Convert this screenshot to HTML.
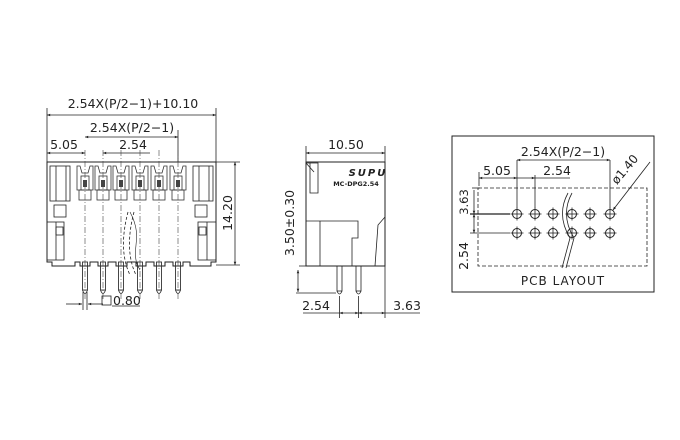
<!DOCTYPE html>
<html><head><meta charset="utf-8"><style>
html,body{margin:0;padding:0;background:#fff;}
svg{display:block;}
text{font-family:"DejaVu Sans","Liberation Sans",sans-serif;fill:#222;}
</style></head><body>
<svg width="680" height="440" viewBox="0 0 680 440" xmlns="http://www.w3.org/2000/svg">
<defs>
<marker id="a" viewBox="0 0 10 10" refX="10" refY="5" markerWidth="6" markerHeight="4" orient="auto-start-reverse"><path d="M0,1 L10,5 L0,9 z" fill="#222"/></marker>
<g id="slot">
 <path d="M-8,166 L-8,190 L8,190 L8,166 L5,166 L3,173 L-3,173 L-5,166 Z" fill="none" stroke="#333" stroke-width="0.8"/>
 <rect x="-4" y="176" width="8" height="14" fill="none" stroke="#333" stroke-width="0.8"/>
 <rect x="-2" y="180" width="4" height="7" fill="#444"/>
 <rect x="-6" y="190" width="12" height="10" fill="none" stroke="#333" stroke-width="0.8"/>
 <rect x="-2.5" y="262" width="5" height="28" fill="none" stroke="#333" stroke-width="0.9"/>
 <path d="M-2.5,290 Q0,297 2.5,290" fill="none" stroke="#333" stroke-width="0.9"/>
 <line x1="0" y1="150" x2="0" y2="300" stroke="#444" stroke-width="0.6" stroke-dasharray="6,2,1,2"/>
</g>
<g id="hole"><circle r="4.5" fill="none" stroke="#222" stroke-width="1"/><line x1="-6.5" y1="0" x2="6.5" y2="0" stroke="#222" stroke-width="0.8"/><line x1="0" y1="-6.5" x2="0" y2="6.5" stroke="#222" stroke-width="0.8"/></g>
</defs>
<g stroke="#222" stroke-width="0.8" fill="none">
<!-- LEFT VIEW -->
<line x1="47" y1="108" x2="47" y2="162"/>
<line x1="216" y1="108" x2="216" y2="162"/>
<line x1="47" y1="115" x2="216" y2="115" marker-start="url(#a)" marker-end="url(#a)"/>
<line x1="85" y1="137" x2="178" y2="137" marker-start="url(#a)" marker-end="url(#a)"/>
<line x1="178" y1="130" x2="178" y2="162"/>
<line x1="47" y1="153" x2="85" y2="153" marker-start="url(#a)" marker-end="url(#a)"/>
<line x1="103" y1="153" x2="150" y2="153" marker-start="url(#a)"/>
<line x1="216" y1="162" x2="240" y2="162"/>
<line x1="216" y1="265" x2="240" y2="265"/>
<line x1="235" y1="162" x2="235" y2="265" marker-start="url(#a)" marker-end="url(#a)"/>
<path d="M47,162 L216,162 L216,262 L211,262 L211,266 L190,266 L190,262 L183,262 L183,266 L173,266 L173,262 L165,262 L165,266 L154,266 L154,262 L146,262 L146,266 L136,266 L136,262 L127,262 L127,266 L116,266 L116,262 L108,262 L108,266 L98,266 L98,262 L90,262 L90,266 L80,266 L80,262 L75,262 L75,266 L52,266 L52,262 L47,262 Z" stroke-width="1"/>
<rect x="50" y="166" width="20" height="35"/><line x1="56" y1="166" x2="56" y2="201"/><line x1="66" y1="166" x2="66" y2="201"/>
<rect x="54" y="205" width="12" height="12"/>
<rect x="47" y="222" width="17" height="38"/><line x1="56" y1="222" x2="56" y2="260"/><rect x="56" y="227" width="7" height="8"/>
<rect x="193" y="166" width="20" height="35"/><line x1="199" y1="166" x2="199" y2="201"/><line x1="209" y1="166" x2="209" y2="201"/>
<rect x="195" y="205" width="12" height="12"/>
<rect x="198" y="222" width="18" height="38"/><line x1="207" y1="222" x2="207" y2="260"/><rect x="199" y="227" width="7" height="8"/>
<path d="M128,212 Q118,250 130,275" stroke-dasharray="3,2"/>
<path d="M134,212 Q124,250 136,275" stroke-dasharray="3,2"/>
<path d="M130,212 C145,240 128,250 140,270" stroke-width="0.6"/>
<line x1="66" y1="304" x2="82" y2="304" marker-end="url(#a)"/>
<line x1="103" y1="304" x2="88" y2="304" marker-end="url(#a)"/>
<line x1="83" y1="292" x2="83" y2="310"/><line x1="87" y1="292" x2="87" y2="310"/>
<rect x="102" y="296" width="9" height="9"/>
<line x1="112" y1="306" x2="140" y2="306"/>
</g>
<use href="#slot" x="85"/><use href="#slot" x="103"/><use href="#slot" x="121"/><use href="#slot" x="140"/><use href="#slot" x="159"/><use href="#slot" x="178"/>
<text x="133" y="108" font-size="12.5" text-anchor="middle">2.54X(P/2−1)+10.10</text>
<text x="132" y="132" font-size="12.5" text-anchor="middle">2.54X(P/2−1)</text>
<text x="64" y="149" font-size="12.5" text-anchor="middle">5.05</text>
<text x="133" y="149" font-size="12.5" text-anchor="middle">2.54</text>
<text transform="translate(232,213) rotate(-90)" font-size="12.5" text-anchor="middle">14.20</text>
<text x="113" y="305" font-size="12.5">0.80</text>

<!-- MIDDLE VIEW -->
<g stroke="#222" stroke-width="0.8" fill="none">
<line x1="306" y1="146" x2="306" y2="162"/><line x1="385" y1="146" x2="385" y2="162"/>
<line x1="306" y1="153" x2="385" y2="153" marker-start="url(#a)" marker-end="url(#a)"/>
<rect x="306" y="162" width="79" height="104" stroke-width="1"/>
<path d="M306,163 L318,163 L318,193 L310,193 L310,163"/>
<line x1="306" y1="163" x2="314" y2="172"/>
<path d="M306,221 L358,221 L358,238 L352,238 L352,266"/>
<line x1="320" y1="221" x2="320" y2="266"/>
<path d="M375,266 L378,225 L385,217"/>
<rect x="337" y="266" width="5" height="25"/><path d="M337,291 Q339.5,297 342,291"/>
<rect x="356" y="266" width="5" height="25"/><path d="M356,291 Q358.5,297 361,291"/>
<line x1="299" y1="266" x2="306" y2="266"/>
<line x1="298" y1="270" x2="298" y2="292" marker-start="url(#a)" marker-end="url(#a)"/>
<line x1="296" y1="293" x2="336" y2="293"/>
<line x1="339.5" y1="296" x2="339.5" y2="318"/><line x1="358.5" y1="296" x2="358.5" y2="318"/><line x1="385" y1="266" x2="385" y2="318"/>
<line x1="303" y1="313" x2="339.5" y2="313"/>
<line x1="339.5" y1="313" x2="358.5" y2="313" marker-start="url(#a)" marker-end="url(#a)"/>
<line x1="358.5" y1="313" x2="385" y2="313" marker-start="url(#a)" marker-end="url(#a)"/>
<line x1="385" y1="313" x2="420" y2="313"/>
</g>
<text x="346" y="149" font-size="12.5" text-anchor="middle">10.50</text>
<text x="368" y="176" font-size="10" font-style="italic" font-weight="bold" text-anchor="middle" fill="#555" letter-spacing="2">SUPU</text>
<text x="356" y="186" font-size="6.5" font-weight="bold" text-anchor="middle">MC-DPG2.54</text>
<text transform="translate(294,223) rotate(-90)" font-size="12.5" text-anchor="middle">3.50±0.30</text>
<text x="316" y="310" font-size="12.5" text-anchor="middle">2.54</text>
<text x="407" y="310" font-size="12.5" text-anchor="middle">3.63</text>

<!-- RIGHT VIEW -->
<g stroke="#222" stroke-width="0.8" fill="none">
<rect x="452" y="136" width="202" height="156" stroke-width="1"/>
<rect x="478" y="188" width="169" height="78" stroke-dasharray="4,2"/>
<line x1="517" y1="160" x2="517" y2="208"/><line x1="535" y1="175" x2="535" y2="208"/><line x1="610" y1="160" x2="610" y2="208"/>
<line x1="517" y1="160" x2="610" y2="160" marker-start="url(#a)" marker-end="url(#a)"/>
<line x1="479" y1="172" x2="479" y2="186"/>
<line x1="479" y1="178" x2="517" y2="178" marker-start="url(#a)" marker-end="url(#a)"/>
<line x1="517" y1="178" x2="535" y2="178" marker-end="url(#a)"/>
<line x1="535" y1="178" x2="570" y2="178"/>
<line x1="470" y1="214" x2="510" y2="214" stroke-width="1.2"/>
<line x1="470" y1="233" x2="510" y2="233"/>
<line x1="474" y1="190" x2="474" y2="214" marker-end="url(#a)"/>
<line x1="474" y1="214" x2="474" y2="233" marker-start="url(#a)" marker-end="url(#a)"/>
<line x1="472" y1="188" x2="480" y2="188"/>
<line x1="613" y1="210" x2="650" y2="162" marker-start="url(#a)"/>
<path d="M568,193 Q556,215 570,238 L562,268" />
<path d="M572,193 Q560,215 574,238 L566,268" />
</g>
<use href="#hole" x="517" y="214"/><use href="#hole" x="535" y="214"/><use href="#hole" x="553" y="214"/><use href="#hole" x="572" y="214"/><use href="#hole" x="590" y="214"/><use href="#hole" x="610" y="214"/>
<use href="#hole" x="517" y="233"/><use href="#hole" x="535" y="233"/><use href="#hole" x="553" y="233"/><use href="#hole" x="572" y="233"/><use href="#hole" x="590" y="233"/><use href="#hole" x="610" y="233"/>
<text x="563" y="156" font-size="12.5" text-anchor="middle">2.54X(P/2−1)</text>
<text x="497" y="175" font-size="12.5" text-anchor="middle">5.05</text>
<text x="557" y="175" font-size="12.5" text-anchor="middle">2.54</text>
<text transform="translate(628,172) rotate(-50)" font-size="12" text-anchor="middle">ø1.40</text>
<text transform="translate(468,202) rotate(-90)" font-size="11.5" text-anchor="middle">3.63</text>
<text transform="translate(468,256) rotate(-90)" font-size="12.5" text-anchor="middle">2.54</text>
<text x="563" y="285" font-size="12" text-anchor="middle" letter-spacing="1">PCB LAYOUT</text>
</svg>
</body></html>
